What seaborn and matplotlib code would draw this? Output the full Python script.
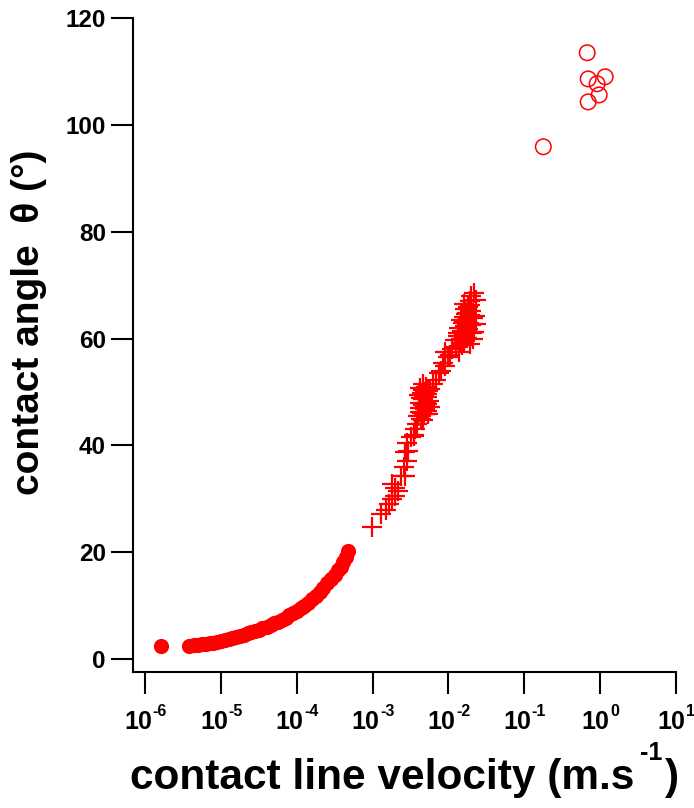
import numpy as np
import pandas as pd
import matplotlib
matplotlib.use("Agg")
import matplotlib.pyplot as plt
import seaborn as sns

# ---- data ----
# slow regime (filled circles)
slow_velocity = [1.62e-6, 3.8e-6, 4.37e-6, 5.0e-6, 5.6e-6, 6.3e-6, 7.1e-6, 7.9e-6, 8.9e-6,
                 1.0e-5, 1.12e-5, 1.26e-5, 1.41e-5, 1.58e-5, 1.78e-5, 2.0e-5, 2.24e-5, 2.5e-5,
                 2.8e-5, 3.2e-5, 3.5e-5, 4.0e-5, 4.5e-5, 5.0e-5, 5.6e-5, 6.3e-5, 7.1e-5, 7.9e-5,
                 8.9e-5, 1.0e-4, 1.12e-4, 1.26e-4, 1.41e-4, 1.58e-4, 1.78e-4, 2.0e-4, 2.24e-4,
                 2.5e-4, 2.8e-4, 3.2e-4, 3.5e-4, 3.8e-4, 4.1e-4, 4.4e-4, 4.7e-4]
slow_angle = [2.5, 2.5, 2.6, 2.7, 2.8, 2.9, 3.0, 3.1, 3.25,
              3.4, 3.55, 3.7, 3.9, 4.1, 4.3, 4.6, 4.85, 5.1,
              5.3, 5.5, 5.8, 6.1, 6.4, 6.7, 7.0, 7.4, 7.8, 8.2,
              8.6, 9.0, 9.5, 10.0, 10.6, 11.2, 11.9, 12.6, 13.4,
              14.2, 15.0, 15.8, 16.6, 17.3, 18.2, 19.2, 20.2]

# intermediate regime (crosses)
mid_velocity = [9.77e-4, 1.29e-3, 1.48e-3, 1.62e-3, 1.82e-3, 2.0e-3, 1.82e-3, 2.0e-3, 2.14e-3,
                2.34e-3, 2.69e-3, 2.57e-3, 2.88e-3, 2.69e-3, 2.95e-3, 2.88e-3, 3.16e-3, 3.47e-3,
                3.47e-3, 3.63e-3, 3.80e-3,
                3.98e-3, 4.37e-3, 4.79e-3, 5.25e-3, 4.17e-3, 4.57e-3, 5.01e-3, 5.50e-3, 4.37e-3,
                4.79e-3, 5.25e-3, 4.57e-3, 5.01e-3, 4.68e-3, 4.17e-3, 5.62e-3, 4.90e-3, 5.37e-3,
                4.47e-3, 4.90e-3, 4.27e-3, 4.68e-3, 5.13e-3, 4.47e-3, 4.90e-3, 4.27e-3, 5.13e-3,
                4.68e-3, 4.07e-3, 5.37e-3,
                5.75e-3, 6.31e-3, 6.76e-3, 7.41e-3, 7.94e-3, 8.51e-3, 9.12e-3, 9.77e-3, 9.12e-3,
                1.047e-2, 1.122e-2, 1.23e-2,
                1.259e-2, 1.38e-2, 1.51e-2, 1.32e-2, 1.45e-2, 1.585e-2, 1.74e-2, 1.91e-2, 2.09e-2,
                1.38e-2, 1.51e-2, 1.66e-2, 1.82e-2, 2.0e-2, 2.19e-2, 1.45e-2, 1.585e-2, 1.74e-2,
                1.91e-2, 2.09e-2, 1.66e-2, 1.82e-2, 2.0e-2, 1.585e-2, 2.29e-2, 2.14e-2, 2.0e-2,
                2.34e-2, 1.91e-2,
                1.62e-2, 1.78e-2, 1.70e-2, 1.86e-2, 1.55e-2, 2.04e-2, 1.48e-2, 1.95e-2, 1.78e-2,
                1.62e-2, 2.24e-2, 1.35e-2]
mid_angle = [24.7, 27.1, 28.0, 29.0, 30.0, 30.6, 32.7, 32.1, 31.5,
             34.2, 34.2, 36.0, 37.0, 38.7, 39.0, 40.5, 41.5, 42.0,
             41.7, 43.0, 44.0,
             45.5, 45.0, 45.8, 46.5, 47.0, 47.5, 48.0, 48.3, 48.8,
             49.2, 49.6, 50.3, 51.0, 51.5, 46.2, 47.2, 46.8, 50.2,
             46.0, 47.3, 48.0, 48.6, 47.8, 49.8, 50.0, 50.7, 49.0,
             44.8, 49.5, 45.8,
             50.5, 51.5, 52.3, 53.6, 54.0, 55.5, 54.8, 56.6, 57.4,
             57.0, 58.0, 59.8,
             58.5, 57.5, 58.8, 60.5, 60.0, 59.5, 60.2, 59.0, 60.0,
             62.0, 61.5, 62.3, 61.8, 62.5, 61.2, 63.5, 64.0, 63.3,
             64.5, 63.8, 65.5, 66.0, 65.2, 66.5, 62.8, 68.6, 67.9,
             67.3, 67.0,
             60.8, 62.8, 64.6, 63.0, 62.9, 61.0, 59.2, 66.3, 64.8,
             63.1, 64.2, 61.0]

# fast regime (open circles)
fast_velocity = [0.675, 0.695, 1.164, 0.912, 0.97, 0.695, 0.178]
fast_angle = [113.5, 108.6, 109.0, 107.7, 105.6, 104.3, 95.9]

x_ticks = [1e-6, 1e-5, 1e-4, 1e-3, 1e-2, 1e-1, 1e0, 1e1]
x_tick_exponents = ["-6", "-5", "-4", "-3", "-2", "-1", "0", "1"]
y_ticks = [0, 20, 40, 60, 80, 100, 120]

x_label_main = "contact line velocity (m.s"
x_label_sup = "-1"
x_label_end = ")"
y_label = "contact angle  θ (°)"

# ---- style ----
sns.set_theme(style="ticks")
plt.rcParams["font.family"] = ["Liberation Sans", "DejaVu Sans"]
plt.rcParams["font.weight"] = "bold"
plt.rcParams["text.color"] = "black"
plt.rcParams["axes.labelcolor"] = "black"

W_PX, H_PX = 694, 808
fig = plt.figure(figsize=(W_PX / 100, H_PX / 100), dpi=100)
AX_L, AX_R, AX_T, AX_B = 133, 676, 18, 672
ax = fig.add_axes([AX_L / W_PX, 1 - AX_B / H_PX, (AX_R - AX_L) / W_PX, (AX_B - AX_T) / H_PX])

red = "#ff0000"
slow = pd.DataFrame({"v": slow_velocity, "theta": slow_angle})
mid = pd.DataFrame({"v": mid_velocity, "theta": mid_angle})
fast = pd.DataFrame({"v": fast_velocity, "theta": fast_angle})

sns.scatterplot(data=slow, x="v", y="theta", ax=ax, marker="o", s=120,
                color=red, edgecolor=red, linewidth=0, zorder=3)
sns.scatterplot(data=mid, x="v", y="theta", ax=ax, marker="+", s=200,
                color=red, linewidth=1.6, zorder=3)
sns.scatterplot(data=fast, x="v", y="theta", ax=ax, marker="o", s=125,
                facecolor="none", edgecolor=red, linewidth=1.1, zorder=3)

ax.set_xscale("log")
ax.set_xlim(10 ** -6.16, 10 ** 1.0)
ax.set_ylim(-2.4, 120)
ax.set_xticks(x_ticks)
ax.set_xticklabels([""] * len(x_ticks))
ax.xaxis.set_minor_locator(matplotlib.ticker.NullLocator())
ax.set_yticks(y_ticks)
ax.set_yticklabels([str(t) for t in y_ticks])

for side in ["top", "right"]:
    ax.spines[side].set_visible(False)
for side in ["left", "bottom"]:
    ax.spines[side].set_linewidth(1.5)
    ax.spines[side].set_color("black")

ax.tick_params(axis="both", which="major", direction="out", length=16, width=1.5,
               color="black", labelsize=17.5, labelcolor="black")
ax.tick_params(axis="y", pad=3.5)
for lab in ax.get_yticklabels():
    lab.set_fontweight("bold")

# x tick labels: "10" with a raised exponent, the pair centred on the tick
base_fs, sup_fs = 18, 11.5
xtrans = ax.get_xaxis_transform()
for t, e in zip(x_ticks, x_tick_exponents):
    w10 = 1.112 * base_fs
    wsup = (0.333 * e.count("-") + 0.556 * len(e.replace("-", ""))) * sup_fs
    total = w10 + wsup
    c10 = -total / 2 + w10 / 2
    ax.annotate("10", xy=(t, 0), xycoords=xtrans, xytext=(c10, -41),
                textcoords="offset points", ha="center", va="baseline",
                fontsize=base_fs, fontweight="bold", annotation_clip=False)
    ax.annotate(e, xy=(t, 0), xycoords=xtrans, xytext=(c10 + w10 / 2 + 0.5, -31.5),
                textcoords="offset points", ha="left", va="baseline",
                fontsize=sup_fs, fontweight="bold", annotation_clip=False)

# x label: main text + raised "-1" + closing parenthesis, centred as a group
LBL_FS, SUP_FS = 30.5, 18
ax.set_xlabel(x_label_main, fontsize=LBL_FS, fontweight="bold")
sup_txt = fig.text(0, 0, x_label_sup, fontsize=SUP_FS, fontweight="bold",
                   ha="left", va="baseline")
end_txt = fig.text(0, 0, x_label_end, fontsize=LBL_FS, fontweight="bold",
                   ha="left", va="baseline")
fig.canvas.draw()
rend = fig.canvas.get_renderer()
w_main = ax.xaxis.label.get_window_extent(rend).width
w_sup = sup_txt.get_window_extent(rend).width
w_end = end_txt.get_window_extent(rend).width
gap1, gap2 = 6, 2
total_w = w_main + gap1 + w_sup + gap2 + w_end
group_center = (AX_L + AX_R) / 2
left_px = group_center - total_w / 2
baseline_px = 789
ax.xaxis.set_label_coords((left_px + w_main / 2 - AX_L) / (AX_R - AX_L),
                          (AX_B - baseline_px) / (AX_B - AX_T))
ax.xaxis.label.set_verticalalignment("baseline")
sup_x = left_px + w_main + gap1
sup_txt.set_position((sup_x / W_PX, 1 - (baseline_px - 29) / H_PX))
end_txt.set_position(((sup_x + w_sup + gap2) / W_PX, 1 - baseline_px / H_PX))

ax.set_ylabel(y_label, fontsize=28, fontweight="bold")
ax.yaxis.set_label_coords(-0.158, 0.535)

fig.savefig("out.png", dpi=100)
